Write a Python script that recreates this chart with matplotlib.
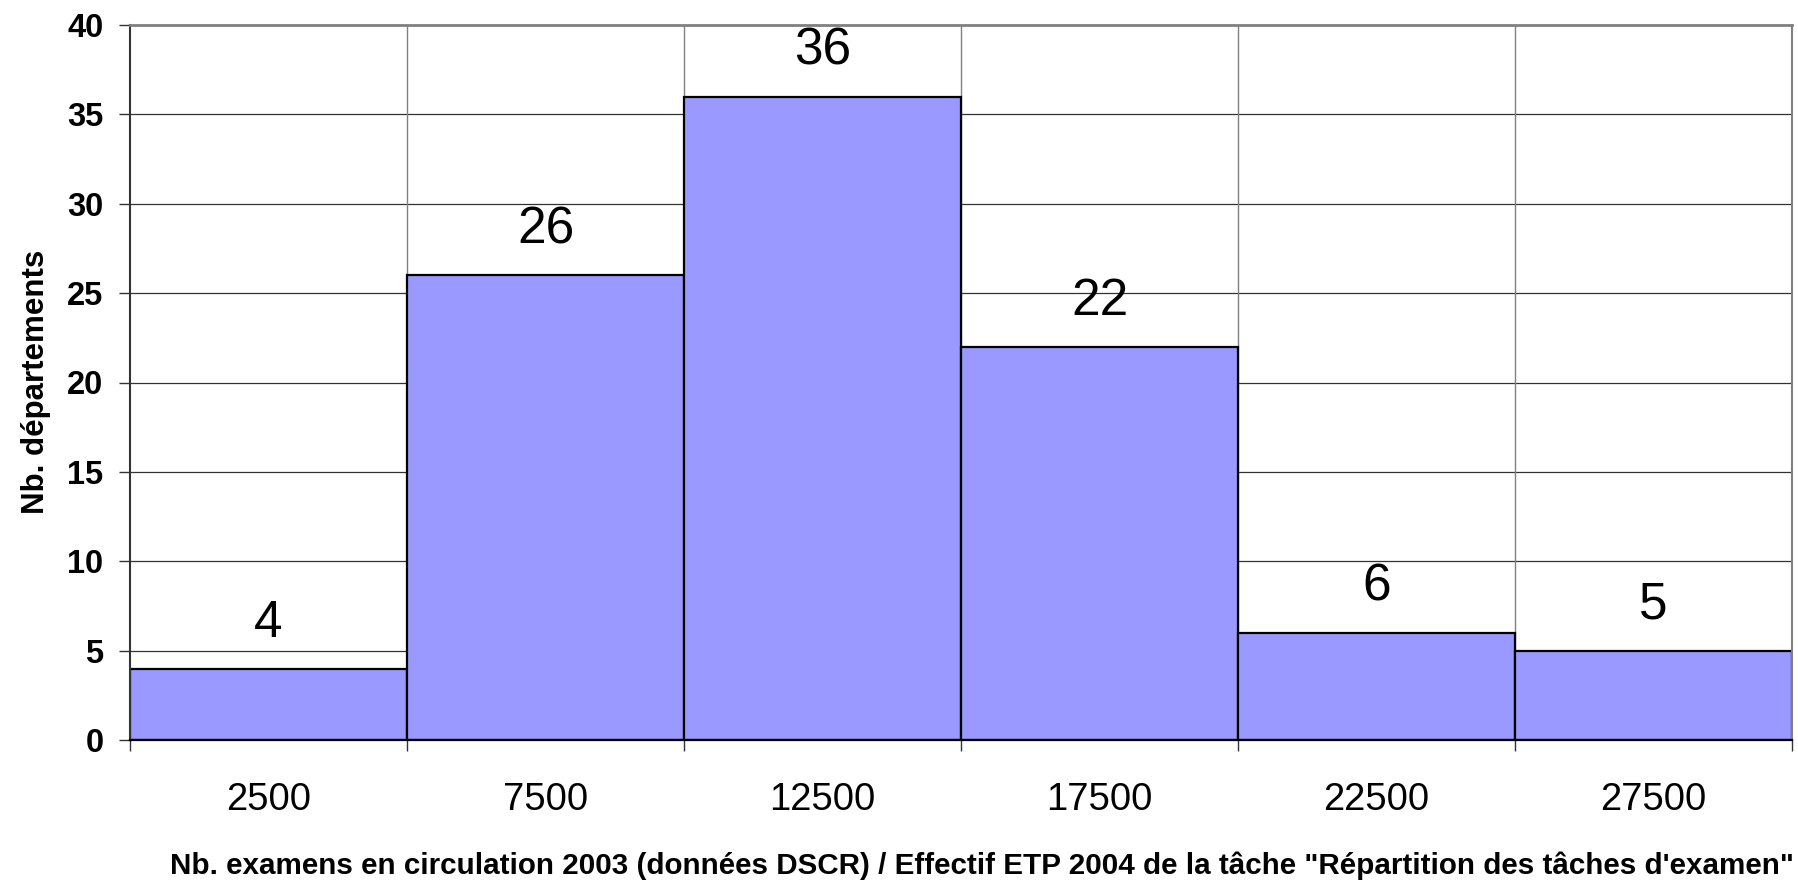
import matplotlib.pyplot as plt
import numpy as np

plt.rcParams['font.family'] = ['Liberation Sans', 'DejaVu Sans']

# histogram classes (centres) and counts
centres = [2500, 7500, 12500, 17500, 22500, 27500]
counts = [4, 26, 36, 22, 6, 5]
bin_width = 5000
edges = [0, 5000, 10000, 15000, 20000, 25000, 30000]
yticks = [0, 5, 10, 15, 20, 25, 30, 35, 40]

fig = plt.figure(figsize=(17.98, 8.89), dpi=100)
ax = fig.add_axes([130/1798, 1 - 740/889, (1792 - 130)/1798, (740 - 25)/889])

# grid: horizontal dark, vertical grey at class edges
for y in yticks[1:-1]:
    ax.axhline(y, color="#333333", linewidth=0.9, zorder=0)
for x in edges[1:-1]:
    ax.axvline(x, color="#808080", linewidth=1.0, zorder=0)

ax.bar(centres, counts, width=bin_width, color="#9999FF",
       edgecolor="black", linewidth=1.6, zorder=2)

for c, n in zip(centres, counts):
    ax.annotate(str(n), (c, n), xytext=(0, 15), textcoords="offset points",
                ha="center", va="bottom", fontsize=37)

ax.set_xlim(0, 30000)
ax.set_ylim(0, 40)

ax.set_yticks(yticks)
ax.set_yticklabels([str(v) for v in yticks], fontsize=23.5, fontweight="bold")
ax.tick_params(axis="y", length=8, width=1, color="#333333", pad=11)

ax.set_xticks(centres)
ax.set_xticklabels([str(v) for v in centres], fontsize=27.5)
ax.set_xticks(edges, minor=True)
ax.tick_params(axis="x", which="major", length=0, pad=30)
ax.tick_params(axis="x", which="minor", length=8, width=1, color="#333333")

ax.spines["top"].set_color("#808080")
ax.spines["top"].set_linewidth(2)
ax.spines["right"].set_color("#808080")
ax.spines["right"].set_linewidth(1.5)
ax.spines["left"].set_color("#333333")
ax.spines["left"].set_linewidth(1.5)
ax.spines["bottom"].set_color("black")
ax.spines["bottom"].set_linewidth(1.6)

fig.text(36/1798, 1 - 382/889, "Nb. départements", rotation=90,
         ha="center", va="center", fontsize=22.5, fontweight="bold")
fig.text(982/1798, 1 - 866/889,
         "Nb. examens en circulation 2003 (données DSCR) / Effectif ETP 2004 de la tâche \"Répartition des tâches d'examen\"",
         ha="center", va="center", fontsize=21.3, fontweight="bold")

fig.savefig("out.png", dpi=100)
